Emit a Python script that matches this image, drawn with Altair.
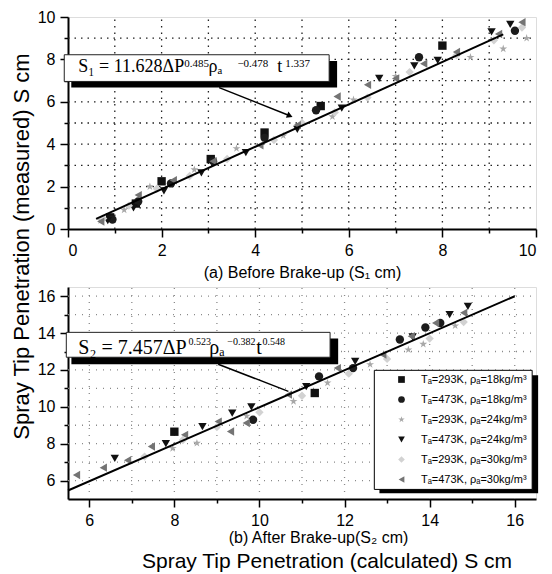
import altair as alt
import pandas as pd

series = ["Tₐ=293K, ρₐ=18kg/m³", "Tₐ=473K, ρₐ=18kg/m³", "Tₐ=293K, ρₐ=24kg/m³",
          "Tₐ=473K, ρₐ=24kg/m³", "Tₐ=293K, ρₐ=30kg/m³", "Tₐ=473K, ρₐ=30kg/m³"]
colors = ["#111111", "#1c1c1c", "#a8a8a8", "#111111", "#d2d2d2", "#747474"]
star = "M0,-1L0.22,-0.31L0.95,-0.31L0.36,0.12L0.59,0.81L0,0.38L-0.59,0.81L-0.36,0.12L-0.95,-0.31L-0.22,-0.31Z"
shapes = ["square", "circle", star, "triangle-down", "diamond", "triangle-left"]

# ---- panel (a): before break-up ----
a_x = [
    [0.9, 1.45, 2.0, 3.05, 4.2, 5.4, 8.0],
    [0.95, 1.5, 2.2, 3.1, 4.2, 5.3, 7.5, 9.55],
    [0.7, 1.2, 1.75, 2.7, 3.6, 4.6, 5.65, 6.1, 7.0, 8.6, 9.3, 9.8],
    [0.85, 1.4, 2.05, 2.85, 3.8, 4.9, 5.85, 6.65, 7.4, 7.9, 9.05, 9.45],
    [0.75, 1.3, 1.9, 2.6, 3.4, 4.4, 5.0, 5.7, 6.4, 7.3, 8.3, 9.1, 9.7],
    [0.7, 1.5, 2.25, 3.1, 4.1, 4.9, 5.75, 6.4, 7.0, 7.6, 8.3, 9.2, 9.7],
]
a_y = [
    [0.55, 1.2, 2.25, 3.3, 4.55, 5.8, 8.65],
    [0.45, 1.3, 2.15, 3.2, 4.3, 5.6, 8.1, 9.35],
    [0.4, 0.9, 2.0, 2.8, 3.8, 4.4, 5.3, 6.1, 7.2, 8.1, 8.5, 9.0],
    [0.4, 1.0, 1.8, 2.65, 3.6, 4.7, 5.7, 7.1, 7.7, 7.95, 9.3, 9.65],
    [0.5, 1.1, 1.9, 2.5, 3.3, 4.2, 5.0, 5.5, 6.2, 7.4, 8.2, 8.9, 9.5],
    [0.35, 1.6, 2.3, 3.2, 3.95, 4.9, 6.25, 6.8, 7.1, 7.8, 8.35, 9.2, 9.75],
]
a_fit_x = [0.6, 9.3]
a_fit_y = [0.48, 9.18]
a_grid = [1, 2, 3, 4, 5, 6, 7, 8, 9]

# ---- panel (b): after break-up ----
b_x = [
    [8.0, 11.3],
    [9.85, 11.4, 12.2, 13.3, 13.9, 14.25],
    [7.96, 8.53, 9.7, 10.8, 11.6, 12.6, 13.5, 13.85, 14.6],
    [6.6, 7.8, 8.66, 9.36, 9.81, 11.1, 12.25, 13.6, 14.47, 14.9],
    [7.3, 8.2, 9.0, 10.0, 11.0, 12.1, 13.0, 14.0, 14.8],
    [5.7, 6.33, 6.9, 7.46, 8.24, 9.03, 9.32, 9.69, 10.68, 11.83, 12.9, 13.57, 14.14, 14.8],
]
b_y = [
    [8.65, 10.75],
    [9.3, 11.65, 12.1, 13.65, 14.3, 14.55],
    [7.75, 8.03, 9.5, 10.3, 11.3, 12.3, 13.1, 13.4, 14.4],
    [7.2, 8.0, 8.93, 9.66, 10.0, 11.1, 12.47, 13.8, 15.0, 15.45],
    [7.3, 8.2, 8.9, 9.7, 10.6, 11.8, 12.6, 13.7, 14.6],
    [6.3, 6.7, 7.1, 7.85, 8.48, 9.2, 8.66, 9.12, 10.66, 12.1, 12.83, 13.83, 14.55, 15.1],
]
b_fit_x = [5.5, 16.0]
b_fit_y = [5.46, 16.0]
b_grid = [6, 7, 8, 9, 10, 11, 12, 13, 14, 15, 16]

# ---- equation annotations (data coordinates) ----
eq_a_base = ["S₁ = 11.628ΔP", "ρₐ", "t"]
eq_a_base_x = [0.22, 3.0, 4.47]
eq_a_base_y = [7.39, 7.39, 7.39]
eq_a_exp = ["0.485", "−0.478", "1.337"]
eq_a_exp_x = [2.485, 3.62, 4.64]
eq_a_exp_y = [7.66, 7.66, 7.66]
box_a = dict(x=-0.08, x2=5.58, y=8.22, y2=6.96)
shadow_a = dict(x=0.07, x2=5.75, y=7.93, y2=6.67)
lead_a_x = [3.23, 4.74]
lead_a_y = [6.67, 5.34]

eq_b_base = ["S₂ = 7.457ΔP", "ρₐ", "t"]
eq_b_base_x = [5.742, 8.82, 9.925]
eq_b_base_y = [12.848, 12.848, 12.848]
eq_b_exp = ["0.523", "−0.382", "0.548"]
eq_b_exp_x = [8.33, 9.245, 10.07]
eq_b_exp_y = [13.337, 13.337, 13.337]
box_b = dict(x=5.46, x2=11.66, y=14.04, y2=12.69)
shadow_b = dict(x=5.58, x2=11.85, y=13.71, y2=12.31)
lead_b_x = [9.03, 10.68]
lead_b_y = [12.31, 10.84]
legend_box_b = dict(x=12.70, x2=16.41, y=11.98, y2=5.52)
legend_shadow_b = dict(x=12.82, x2=16.55, y=11.71, y2=5.31)

FONT = "Liberation Sans"
SERIF = "Liberation Serif"


def points_df(xs, ys):
    rows = []
    for s, xl, yl in zip(series, xs, ys):
        for x, y in zip(xl, yl):
            rows.append({"x": x, "y": y, "series": s})
    return pd.DataFrame(rows)


label_expr = "datum.value % 2 === 0 ? datum.label : ''"
tick_cond = {"condition": {"test": "datum.value % 2 === 0", "value": 8}, "value": 4}


def make_axis(vals, title, **kw):
    return alt.Axis(values=vals, labelExpr=label_expr, title=title, grid=False,
                    domainColor="black", domainWidth=2, tickColor="black", tickWidth=1.5,
                    tickSize=tick_cond, labelFont=FONT, labelFontSize=16, labelColor="black",
                    labelPadding=5, titleFont=FONT, titleFontSize=16, titleFontWeight="normal",
                    titleColor="black", **kw)


def build_panel(xs, ys, fit_x, fit_y, xdom, ydom, xaxis, yaxis, base_fs, exp_fs,
                gx, gy, grid_color, grid_dash,
                base_t, base_x, base_y, exp_t, exp_x, exp_y, box, shadow, lead_x, lead_y,
                legend, arrow, legend_rects=None):
    X = lambda f="x": alt.X(f, type="quantitative", scale=alt.Scale(domain=xdom, nice=False, zero=False), axis=xaxis)
    Y = lambda f="y": alt.Y(f, type="quantitative", scale=alt.Scale(domain=ydom, nice=False, zero=False), axis=yaxis)
    layers = []
    vg = pd.DataFrame({"x": gx, "y": [ydom[0]] * len(gx), "y2": [ydom[1]] * len(gx)})
    hg = pd.DataFrame({"y": gy, "x": [xdom[0]] * len(gy), "x2": [xdom[1]] * len(gy)})
    layers.append(alt.Chart(vg).mark_rule(color=grid_color, strokeDash=grid_dash, strokeWidth=1.3).encode(
        x=X(), y=Y(), y2="y2"))
    layers.append(alt.Chart(hg).mark_rule(color=grid_color, strokeDash=grid_dash, strokeWidth=1.3).encode(
        y=Y(), x=X(), x2="x2"))
    if legend_rects is not None:
        sh, bx = legend_rects
        layers.append(alt.Chart(pd.DataFrame([sh])).mark_rect(color="black").encode(
            x=X(), x2="x2", y=Y(), y2="y2"))
        layers.append(alt.Chart(pd.DataFrame([bx])).mark_rect(fill="white", stroke="black", strokeWidth=1).encode(
            x=X(), x2="x2", y=Y(), y2="y2"))
    pts = alt.Chart(points_df(xs, ys)).mark_point(filled=True, opacity=1, strokeWidth=0).encode(
        x=X(), y=Y(),
        color=alt.Color("series:N", scale=alt.Scale(domain=series, range=colors), legend=legend),
        shape=alt.Shape("series:N", scale=alt.Scale(domain=series, range=shapes), legend=legend),
        size=alt.value(70),
    )
    layers.append(pts)
    fit = alt.Chart(pd.DataFrame({"x": fit_x, "y": fit_y})).mark_line(color="black", strokeWidth=2).encode(
        x=X(), y=Y())
    layers.append(fit)
    layers.append(alt.Chart(pd.DataFrame([shadow])).mark_rect(color="black").encode(
        x=X(), x2="x2", y=Y(), y2="y2"))
    layers.append(alt.Chart(pd.DataFrame([box])).mark_rect(fill="white", stroke="#222", strokeWidth=1).encode(
        x=X(), x2="x2", y=Y(), y2="y2"))
    layers.append(alt.Chart(pd.DataFrame({"x": base_x, "y": base_y, "t": base_t})).mark_text(
        align="left", baseline="alphabetic", font=SERIF, fontSize=base_fs, color="black").encode(
        x=X(), y=Y(), text="t:N"))
    layers.append(alt.Chart(pd.DataFrame({"x": exp_x, "y": exp_y, "t": exp_t})).mark_text(
        align="left", baseline="alphabetic", font=SERIF, fontSize=exp_fs, color="black").encode(
        x=X(), y=Y(), text="t:N"))
    ld = pd.DataFrame({"x": lead_x, "y": lead_y})
    layers.append(alt.Chart(ld).mark_line(color="black", strokeWidth=1.5).encode(x=X(), y=Y()))
    if arrow is not None:
        layers.append(alt.Chart(ld.iloc[[1]]).mark_point(shape="triangle-right", filled=True, color="black",
                                                          size=45, angle=arrow, opacity=1).encode(x=X(), y=Y()))
    return alt.layer(*layers)


xa_axis = make_axis(list(range(0, 11)), "(a) Before Brake-up (S₁ cm)", titlePadding=6)
ya_axis = make_axis(list(range(0, 11)), "Spray Tip Penetration (measured) S cm",
                    titleX=-47, titleY=229, titleAngle=270, titleAlign="center", titleBaseline="middle")
ya_axis.titleFontSize = 22

panel_a = build_panel(a_x, a_y, a_fit_x, a_fit_y, [0, 10], [0, 10], xa_axis, ya_axis, 18, 11,
                      a_grid, a_grid, "#222222", [1.5, 5],
                      eq_a_base, eq_a_base_x, eq_a_base_y, eq_a_exp, eq_a_exp_x, eq_a_exp_y,
                      box_a, shadow_a, lead_a_x, lead_a_y, None, 22).properties(width=468, height=212)

legend_b = alt.Legend(orient="none", legendX=328, legendY=87, title=None,
                      padding=0, rowPadding=8, symbolSize=45,
                      labelFont=FONT, labelFontSize=11, labelColor="black", labelLimit=220,
                      labelOffset=14, symbolStrokeWidth=0)
xb_axis = make_axis(list(range(6, 17)), "(b) After Brake-up(S₂ cm)", titlePadding=1, titleX=250)
yb_axis = make_axis(list(range(6, 17)), None)

panel_b = build_panel(b_x, b_y, b_fit_x, b_fit_y, [5.5, 16.5], [5, 16.5], xb_axis, yb_axis, 20, 10,
                      b_grid, b_grid, "#8a8a8a", [1, 6],
                      eq_b_base, eq_b_base_x, eq_b_base_y, eq_b_exp, eq_b_exp_x, eq_b_exp_y,
                      box_b, shadow_b, lead_b_x, lead_b_y, legend_b, None,
                      legend_rects=(legend_shadow_b, legend_box_b)).properties(
    width=468, height=212,
    title=alt.TitleParams("Spray Tip Penetration (calculated) S cm", orient="bottom", anchor="middle",
                          font=FONT, fontSize=21, fontWeight="normal", color="black", dx=25, offset=6))

chart = alt.vconcat(panel_a, panel_b, spacing=58, bounds="flush").resolve_scale(
    color="independent", shape="independent"
).properties(
    padding={"left": 9, "top": 8, "right": 5, "bottom": 5}
).configure_view(stroke="black", strokeWidth=2).configure(background="white")

chart.save("out.html", embed_options={"renderer": "svg", "actions": False})
